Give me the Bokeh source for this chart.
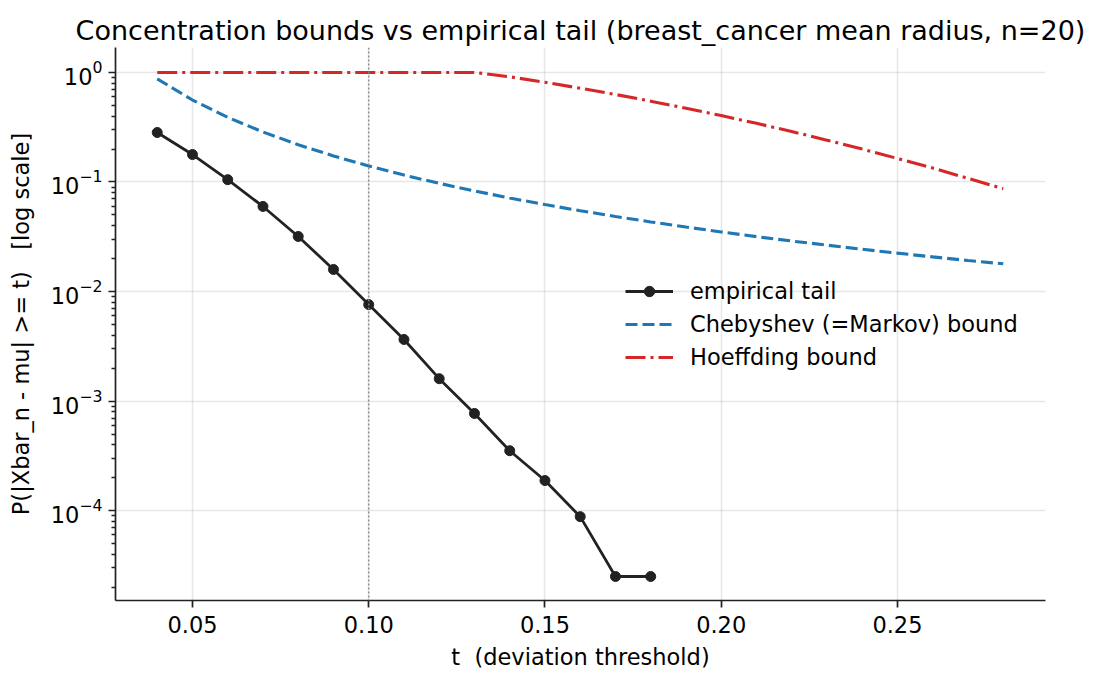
from bokeh.plotting import figure
from bokeh.models import Range1d, FixedTicker, Span, Legend, LegendItem, NumeralTickFormatter
from bokeh.embed import file_html
from bokeh.resources import INLINE

# empirical tail
t_emp = [0.04, 0.05, 0.06, 0.07, 0.08, 0.09, 0.10, 0.11, 0.12, 0.13, 0.14, 0.15, 0.16, 0.17, 0.18]
p_emp = [0.283, 0.178, 0.105, 0.0598, 0.0318, 0.0159, 0.0076, 0.00365, 0.0016, 0.00077,
         0.000352, 0.000188, 0.000088, 0.000025, 0.000025]

# bounds
t_bound = [0.04, 0.05, 0.06, 0.07, 0.08, 0.09, 0.10, 0.11, 0.12, 0.13, 0.14, 0.15, 0.16,
           0.17, 0.18, 0.19, 0.20, 0.21, 0.22, 0.23, 0.24, 0.25, 0.26, 0.27, 0.28]
cheb = [0.875, 0.56, 0.389, 0.286, 0.219, 0.173, 0.14, 0.1157, 0.0972, 0.0828, 0.0714, 0.0622,
        0.0547, 0.0484, 0.0432, 0.0388, 0.035, 0.0317, 0.0289, 0.0265, 0.0243, 0.0224, 0.0207,
        0.0192, 0.0179]
hoeff = [1.0, 1.0, 1.0, 1.0, 1.0, 1.0, 1.0, 1.0, 1.0, 1.0, 0.913, 0.813, 0.718, 0.629, 0.547,
         0.472, 0.404, 0.343, 0.289, 0.241, 0.200, 0.164, 0.134, 0.108, 0.0869]

x_ticks = [0.05, 0.10, 0.15, 0.20, 0.25]
y_ticks = [1e-4, 1e-3, 1e-2, 1e-1, 1.0]
y_minor = [m * d for d in [1e-5, 1e-4, 1e-3, 1e-2, 1e-1, 1.0] for m in range(2, 10)]
t_mark = 0.10

FONT = "DejaVu Sans"
FS = "22.5px"
NB = "\u00a0"

p = figure(width=1102, height=685, output_backend="svg", toolbar_location=None,
           y_axis_type="log",
           x_range=Range1d(0.02816, 0.292), y_range=Range1d(1.51e-5, 1.69),
           min_border_left=115, min_border_right=57, min_border_top=47, min_border_bottom=85,
           title="Concentration bounds vs empirical tail (breast_cancer mean radius, n=20)")

p.title.text_font = FONT
p.title.text_font_size = "27px"
p.title.text_font_style = "normal"
p.title.align = "center"
p.title.text_color = "#000000"
p.title.standoff = 4

p.outline_line_color = None
p.background_fill_color = "white"
p.border_fill_color = "white"

for ax in (p.xaxis[0], p.yaxis[0]):
    ax.axis_line_color = "#222222"
    ax.axis_line_width = 1.7
    ax.major_tick_line_color = "#222222"
    ax.major_tick_line_width = 1.7
    ax.major_tick_out = 7
    ax.major_tick_in = 0
    ax.minor_tick_line_color = "#222222"
    ax.minor_tick_line_width = 1.3
    ax.minor_tick_out = 4
    ax.minor_tick_in = 0
    ax.major_label_text_font = FONT
    ax.major_label_text_font_size = FS
    ax.major_label_text_color = "#000000"
    ax.axis_label_text_font = FONT
    ax.axis_label_text_font_size = FS
    ax.axis_label_text_font_style = "normal"
    ax.axis_label_text_color = "#000000"

p.xaxis.ticker = FixedTicker(ticks=x_ticks)
p.xaxis.formatter = NumeralTickFormatter(format="0.00")
p.xaxis.minor_tick_line_color = None
p.xaxis.axis_label = "t" + NB + NB + "(deviation threshold)"
p.xaxis.major_label_standoff = 8
p.xaxis.axis_label_standoff = 8

p.yaxis.ticker = FixedTicker(ticks=y_ticks, minor_ticks=y_minor)
p.yaxis.axis_label = "P(|Xbar_n - mu| >= t)" + NB * 3 + "[log scale]"
p.yaxis.major_label_standoff = 6
p.yaxis.axis_label_standoff = 14

p.xgrid.grid_line_color = "#b0b0b0"
p.xgrid.grid_line_alpha = 0.3
p.xgrid.grid_line_width = 1.5
p.xgrid.ticker = FixedTicker(ticks=x_ticks)
p.ygrid.grid_line_color = "#b0b0b0"
p.ygrid.grid_line_alpha = 0.3
p.ygrid.grid_line_width = 1.5
p.ygrid.ticker = FixedTicker(ticks=y_ticks)

vline = Span(location=t_mark, dimension="height", line_color="#888888", line_width=1.5,
             line_dash="2 2", line_alpha=0.9)
p.add_layout(vline)

r_emp_line = p.line(t_emp, p_emp, line_color="#222222", line_width=2.8)
r_emp_pts = p.scatter(t_emp, p_emp, size=10, fill_color="#222222", line_color="#222222")
r_cheb = p.line(t_bound, cheb, line_color="#1f77b4", line_width=3.1, line_dash="12 5")
r_hoef = p.line(t_bound, hoeff, line_color="#d62728", line_width=3.1, line_dash="20 5 3 5")

legend = Legend(items=[
    LegendItem(label="empirical tail", renderers=[r_emp_line, r_emp_pts]),
    LegendItem(label="Chebyshev (=Markov) bound", renderers=[r_cheb]),
    LegendItem(label="Hoeffding bound", renderers=[r_hoef]),
], location=(510, 230))
legend.border_line_color = None
legend.background_fill_alpha = 0
legend.label_text_font = FONT
legend.label_text_font_size = FS
legend.label_text_color = "#000000"
legend.glyph_width = 48
legend.glyph_height = 26
legend.label_height = 26
legend.spacing = 7
legend.label_standoff = 17
legend.padding = 0
legend.margin = 0
p.add_layout(legend)

open("out.html", "w").write(file_html(p, INLINE))
